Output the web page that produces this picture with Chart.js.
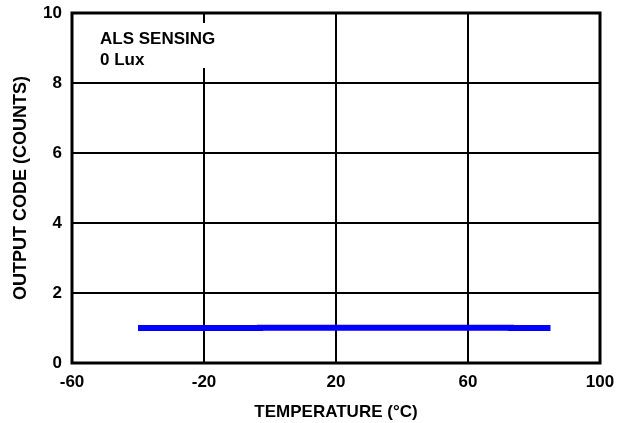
<!DOCTYPE html>
<html>
<head>
<meta charset="utf-8">
<script src="https://cdn.jsdelivr.net/npm/chart.js@4/dist/chart.umd.min.js"></script>
<style>
  html, body { margin: 0; padding: 0; background: #fff; }
  #wrap { width: 626px; height: 423px; }
</style>
</head>
<body>
<div id="wrap"><canvas id="chart" width="626" height="423"></canvas></div>
<script>
'use strict';

const temps = [-40, -3, -3, 73, 73, 85];
const outputCode = [1.0, 1.0, 1.01, 1.01, 1.0, 1.0];
const xTicks = [-60, -20, 20, 60, 100];
const yTicks = [0, 2, 4, 6, 8, 10];
const noteLines = ['ALS SENSING', '0 Lux'];

const FONT = '"Liberation Sans", Arial, sans-serif';

// white box behind the note, then the note text
const notePlugin = {
  id: 'note',
  beforeDatasetsDraw(chart) {
    const ctx = chart.ctx;
    ctx.save();
    ctx.fillStyle = '#fff';
    ctx.fillRect(88, 23, 150, 45);
    ctx.fillStyle = '#000';
    ctx.font = 'bold 17px ' + FONT;
    ctx.textBaseline = 'alphabetic';
    ctx.fillText(noteLines[0], 100, 44);
    ctx.fillText(noteLines[1], 100, 65);
    ctx.restore();
  }
};

// heavier frame round the plot
const framePlugin = {
  id: 'frame',
  afterDraw(chart) {
    const a = chart.chartArea;
    const ctx = chart.ctx;
    ctx.save();
    ctx.strokeStyle = '#000';
    ctx.lineWidth = 3;
    ctx.strokeRect(a.left, a.top, a.right - a.left, a.bottom - a.top);
    ctx.restore();
  }
};

new Chart(document.getElementById('chart'), {
  type: 'line',
  data: {
    datasets: [{
      data: temps.map((t, i) => ({ x: t, y: outputCode[i] })),
      borderColor: '#0000ff',
      borderWidth: 6,
      pointRadius: 0,
      tension: 0,
      borderCapStyle: 'butt'
    }]
  },
  options: {
    responsive: false,
    animation: false,
    devicePixelRatio: 1,
    layout: { padding: { top: 13, right: 26, left: 0, bottom: 0 } },
    plugins: { legend: { display: false }, tooltip: { enabled: false } },
    scales: {
      x: {
        type: 'linear',
        min: xTicks[0],
        max: xTicks[xTicks.length - 1],
        afterBuildTicks: s => { s.ticks = xTicks.map(v => ({ value: v })); },
        afterFit: s => { s.height = 60; s.paddingLeft = 0; s.paddingRight = 0; },
        grid: { color: '#000', lineWidth: 2, drawTicks: false },
        border: { display: false },
        ticks: { color: '#000', padding: 9, maxRotation: 0, font: { family: FONT, size: 17, weight: 'bold' } },
        title: {
          display: true,
          text: 'TEMPERATURE (°C)',
          color: '#000',
          padding: { top: 9, bottom: 0 },
          font: { family: FONT, size: 17, weight: 'bold' }
        }
      },
      y: {
        min: yTicks[0],
        max: yTicks[yTicks.length - 1],
        afterBuildTicks: s => { s.ticks = yTicks.map(v => ({ value: v })); },
        afterFit: s => { s.width = 72; s.paddingTop = 0; s.paddingBottom = 0; },
        grid: { color: '#000', lineWidth: 2, drawTicks: false },
        border: { display: false },
        ticks: { color: '#000', padding: 10, font: { family: FONT, size: 17, weight: 'bold' } },
        title: {
          display: true,
          text: 'OUTPUT CODE (COUNTS)',
          color: '#000',
          padding: { top: 10, bottom: 0 },
          font: { family: FONT, size: 18, weight: 'bold' }
        }
      }
    }
  },
  plugins: [notePlugin, framePlugin]
});
</script>
</body>
</html>
